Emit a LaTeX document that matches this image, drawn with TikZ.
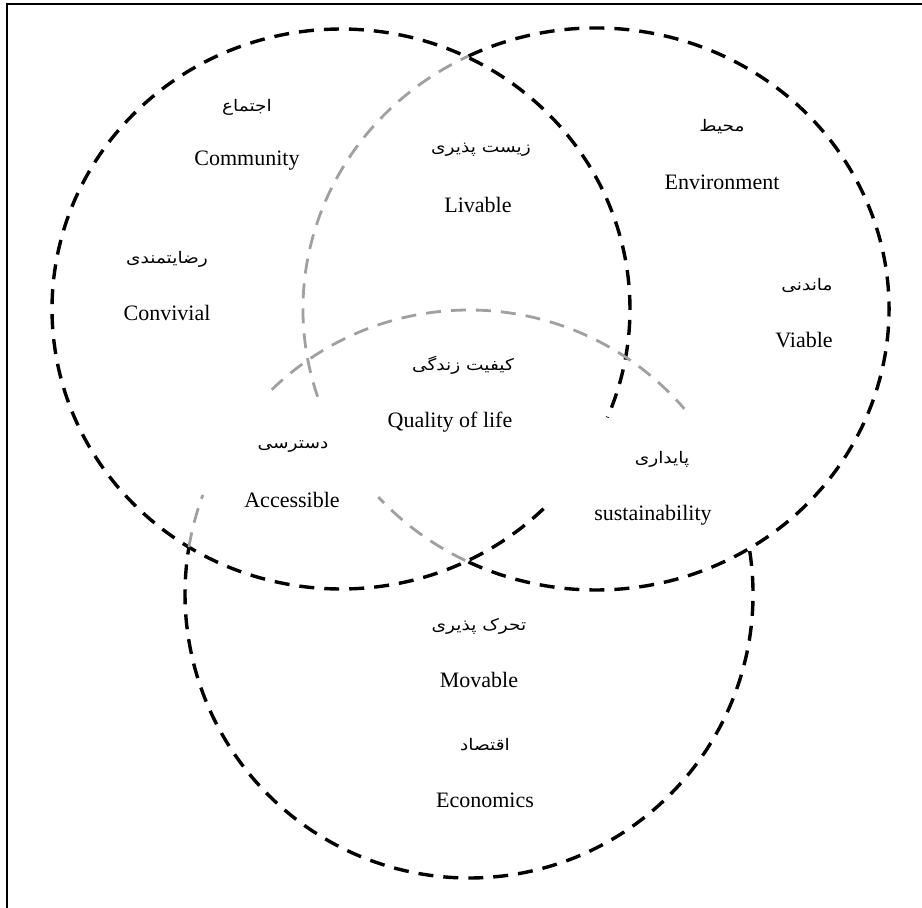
\documentclass[tikz,border=0pt]{standalone}
\usepackage{fontspec}
\setmainfont{Liberation Serif}
\newfontfamily\fafont[Script=Arabic, FakeStretch=1.16]{DejaVu Sans}
\TeXXeTstate=1
\definecolor{lightline}{RGB}{160,160,160}
\newcommand{\earc}[7]{\draw[#1] ({#2+#4*cos(#6)},{#3+#5*sin(#6)}) arc[start angle=#6, end angle=#7, x radius=#4, y radius=#5];}
\tikzset{
  darkdash/.style={line width=3.4pt, dash pattern=on 15pt off 10pt, black},
  lightdash/.style={line width=2.8pt, dash pattern=on 15pt off 10pt, lightline},
  en/.style={inner sep=0pt, font=\fontsize{22}{26}\selectfont},
  fa/.style={inner sep=0pt, font=\fafont\fontsize{16}{19}\selectfont}
}
\begin{document}
\begin{tikzpicture}[x=1pt,y=-1pt]
\useasboundingbox (0,0) rectangle (922,908);
\fill[white] (0,0) rectangle (922,908);
% frame
\draw[line width=2.5pt] (7,908) -- (7,4) -- (922,4);
% circle A (Community)
\earc{darkdash}{341}{309}{289}{280}{45.5}{382.8}
% circle B (Environment)
\earc{darkdash}{596}{309}{293}{281}{-115.8}{116.5}
\earc{lightdash}{596}{309}{293}{281}{116.5}{138}
\earc{lightdash}{596}{309}{293}{281}{161.8}{244.2}
% circle C (Economics)
\earc{darkdash}{469}{594}{284}{284}{-8.7}{189.5}
\earc{lightdash}{469}{594}{284}{284}{189.5}{200.4}
\earc{lightdash}{469}{594}{284}{284}{226}{319.3}
% labels
\node[fa] (ejtema) at (247,107) {\beginR اجتماع\endR};
\node[en] (community) at (247,161) {Community};
\node[fa] (zist) at (481,150) {\beginR زیست پذیری\endR};
\node[en] (livable) at (478,205) {Livable};
\node[fa] (mohit) at (722,127) {\beginR محیط\endR};
\node[en] (environment) at (722,182) {Environment};
\node[fa] (rezayat) at (167,259) {\beginR رضایتمندی\endR};
\node[en] (convivial) at (167,313) {Convivial};
\node[fa] (mandani) at (807,285) {\beginR ماندنی\endR};
\node[en] (viable) at (804,340) {Viable};
\node[fa] (keyfiyat) at (463,365) {\beginR کیفیت زندگی\endR};
\node[en] (quality) at (450,422) {Quality of life};
\node[fa] (dastrasi) at (293,447) {\beginR دسترسی\endR};
\node[en] (accessible) at (292,500) {Accessible};
\node[fa] (paydari) at (662,459) {\beginR پایداری\endR};
\node[en] (sustain) at (653,515) {sustainability};
\node[fa] (taharok) at (479,626) {\beginR تحرک پذیری\endR};
\node[en] (movable) at (479,680) {Movable};
\node[fa] (eqtesad) at (485,745) {\beginR اقتصاد\endR};
\node[en] (economics) at (485,800) {Economics};
\end{tikzpicture}
\end{document}
